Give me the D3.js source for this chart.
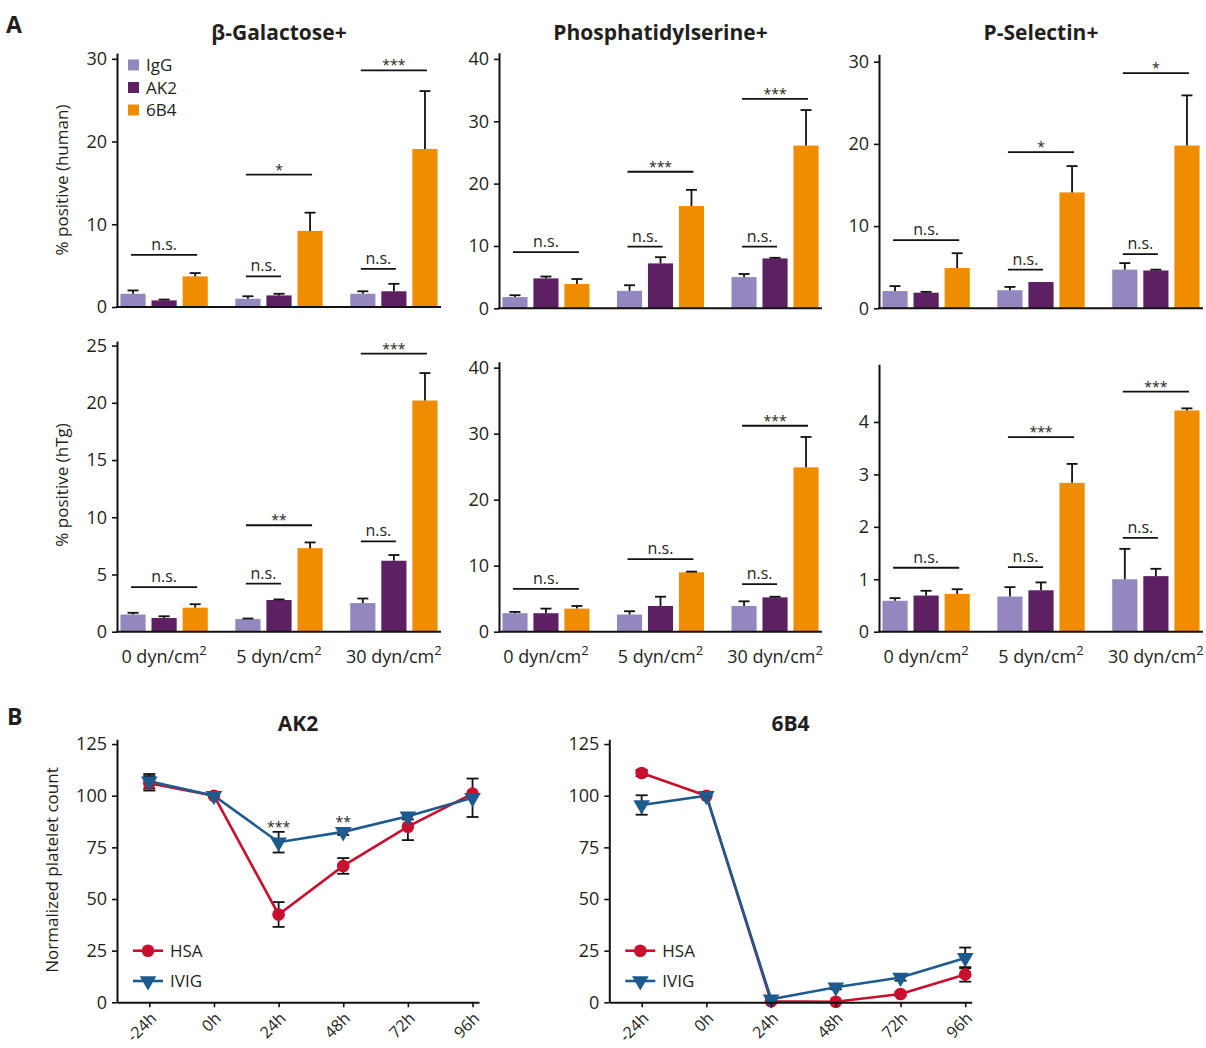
<!DOCTYPE html>
<html>
<head>
<meta charset="utf-8">
<script src="https://cdn.jsdelivr.net/npm/d3@7"></script>
<style>
  body { margin: 0; background: #fff; }
  svg { display: block; }
  text { font-family: "Open Sans", "Noto Sans", sans-serif; fill: #231f20; }
</style>
</head>
<body>
<svg id="fig" width="1206" height="1048"></svg>
<script>
// ---------- Panel A: bar data (mean and error per shear condition x antibody) ----------
const antibodies = ["IgG", "AK2", "6B4"];
const shearLevels = ["0", "5", "30"];
const barColors = ["#9486be", "#5d2062", "#f08c00"];

const galHumanMean  = [[1.6, 0.8, 3.7], [1.0, 1.4, 9.2], [1.6, 1.9, 19.1]];
const galHumanErr   = [[0.4, 0.1, 0.4], [0.3, 0.2, 2.2], [0.3, 0.9, 7.0]];
const psHumanMean   = [[1.8, 4.8, 3.9], [2.8, 7.2, 16.4], [5.0, 8.0, 26.1]];
const psHumanErr    = [[0.3, 0.3, 0.8], [0.9, 1.0, 2.6], [0.5, 0.1, 5.7]];
const pselHumanMean = [[2.1, 1.9, 4.9], [2.2, 3.2, 14.1], [4.7, 4.6, 19.8]];
const pselHumanErr  = [[0.6, 0.1, 1.8], [0.4, 0.0, 3.2], [0.8, 0.1, 6.1]];

const galHtgMean  = [[1.5, 1.2, 2.1], [1.1, 2.77, 7.3], [2.5, 6.2, 20.2]];
const galHtgErr   = [[0.15, 0.15, 0.3], [0.05, 0.05, 0.5], [0.4, 0.5, 2.4]];
const psHtgMean   = [[2.8, 2.8, 3.5], [2.6, 3.9, 9.0], [3.9, 5.2, 24.9]];
const psHtgErr    = [[0.2, 0.7, 0.4], [0.5, 1.4, 0.1], [0.7, 0.1, 4.6]];
const pselHtgMean = [[0.59, 0.69, 0.72], [0.67, 0.79, 2.84], [1.0, 1.06, 4.22]];
const pselHtgErr  = [[0.05, 0.09, 0.09], [0.18, 0.15, 0.36], [0.58, 0.14, 0.04]];

// significance brackets: [shear group, from antibody, to antibody, height, label]
const galHumanSig  = [[0, 0, 2, 6.3, "n.s."], [1, 0, 1, 3.7, "n.s."], [1, 0, 2, 16.0, "*"], [2, 0, 1, 4.6, "n.s."], [2, 0, 2, 28.6, "***"]];
const psHumanSig   = [[0, 0, 2, 9.0, "n.s."], [1, 0, 1, 9.9, "n.s."], [1, 0, 2, 21.9, "***"], [2, 0, 1, 9.9, "n.s."], [2, 0, 2, 33.6, "***"]];
const pselHumanSig = [[0, 0, 2, 8.3, "n.s."], [1, 0, 1, 4.7, "n.s."], [1, 0, 2, 19.0, "*"], [2, 0, 1, 6.6, "n.s."], [2, 0, 2, 28.6, "*"]];
const galHtgSig    = [[0, 0, 2, 3.9, "n.s."], [1, 0, 1, 4.2, "n.s."], [1, 0, 2, 9.3, "**"], [2, 0, 1, 7.9, "n.s."], [2, 0, 2, 24.3, "***"]];
const psHtgSig     = [[0, 0, 2, 6.5, "n.s."], [1, 0, 2, 11.0, "n.s."], [2, 0, 1, 7.2, "n.s."], [2, 0, 2, 31.2, "***"]];
const pselHtgSig   = [[0, 0, 2, 1.22, "n.s."], [1, 0, 1, 1.23, "n.s."], [1, 0, 2, 3.71, "***"], [2, 0, 1, 1.79, "n.s."], [2, 0, 2, 4.58, "***"]];

const galTicks = [0, 10, 20, 30];
const psTicks = [0, 10, 20, 30, 40];
const pselTicks = [0, 10, 20, 30];
const galHtgTicks = [0, 5, 10, 15, 20, 25];
const psHtgTicks = [0, 10, 20, 30, 40];
const pselHtgTicks = [0, 1, 2, 3, 4];

// ---------- Panel B: normalized platelet count over time ----------
const timepoints = ["-24h", "0h", "24h", "48h", "72h", "96h"];
const ak2Hsa     = [106, 100, 42.5, 66, 85, 101];
const ak2HsaErr  = [3.5, 0, 6, 3.8, 6.5, 0];
const ak2Ivig    = [107, 100, 77.5, 82.5, 90, 99];
const ak2IvigErr = [3.5, 0, 5, 1.5, 1.5, 9.3];
const ak2Stars   = [[2, 86, "***"], [3, 88, "**"]];
const b4Hsa      = [111, 100, 0.5, 0.3, 4, 13.5];
const b4HsaErr   = [1.5, 0, 0, 0, 1, 3.5];
const b4Ivig     = [95.5, 100, 1.5, 7.3, 12, 21.5];
const b4IvigErr  = [4.7, 0, 0.5, 1, 1.5, 5];
const countTicks = [0, 25, 50, 75, 100, 125];
const hsaColor = "#c8102e";
const ivigColor = "#1d5b8f";

const svg = d3.select("#fig");

function styleAxis(g) {
  g.select(".domain").attr("stroke", "#111").attr("stroke-width", 2);
  g.selectAll(".tick line").attr("stroke", "#111").attr("stroke-width", 1.6);
  g.selectAll(".tick text").style("font-size", "18px").attr("fill", "#231f20");
}

function shearLabel(sel, v) {
  sel.text(v + " dyn/cm");
  sel.append("tspan").attr("dy", -8).style("font-size", "13px").text("2");
}

function barPanel(o) {
  const g = svg.append("g");
  const y = d3.scaleLinear().domain([0, o.domTop]).range([o.y0, o.yTop]);
  const x0 = d3.scaleBand().domain(shearLevels).range([o.x0, o.x1])
    .paddingInner(0.24).paddingOuter(0.03);
  const x1 = d3.scaleBand().domain(antibodies).range([0, x0.bandwidth()]).paddingInner(0.19);
  const capW = 11;

  shearLevels.forEach((s, gi) => {
    antibodies.forEach((a, ai) => {
      const v = o.mean[gi][ai], e = o.err[gi][ai];
      const bx = x0(s) + x1(a);
      g.append("rect").attr("x", bx).attr("y", y(v))
        .attr("width", x1.bandwidth()).attr("height", y(0) - y(v))
        .attr("fill", barColors[ai]);
      if (e > 0) {
        const cx = bx + x1.bandwidth() / 2;
        g.append("line").attr("x1", cx).attr("x2", cx).attr("y1", y(v)).attr("y2", y(v + e))
          .attr("stroke", "#111").attr("stroke-width", 1.8);
        g.append("line").attr("x1", cx - capW / 2).attr("x2", cx + capW / 2)
          .attr("y1", y(v + e)).attr("y2", y(v + e)).attr("stroke", "#111").attr("stroke-width", 1.8);
      }
    });
  });

  // significance brackets
  o.sig.forEach(([gi, a, b, h, lab]) => {
    const xa = x0(shearLevels[gi]) + x1(antibodies[a]) + x1.bandwidth() / 2;
    const xb = x0(shearLevels[gi]) + x1(antibodies[b]) + x1.bandwidth() / 2;
    g.append("line").attr("x1", xa - 2).attr("x2", xb + 2).attr("y1", y(h)).attr("y2", y(h))
      .attr("stroke", "#111").attr("stroke-width", 1.8);
    const isStar = lab.indexOf("*") === 0;
    g.append("text").attr("x", (xa + xb) / 2).attr("y", y(h) - (isStar ? 0 : 5))
      .attr("text-anchor", "middle")
      .style("font-size", isStar ? "14px" : "16px").text(lab);
  });

  // axes
  const ya = g.append("g").attr("transform", `translate(${o.x0},0)`)
    .call(d3.axisLeft(y).tickValues(o.ticks).tickFormat(d3.format("d"))
      .tickSize(5).tickPadding(5).tickSizeOuter(0));
  styleAxis(ya);
  g.append("line").attr("x1", o.x0 - 1).attr("x2", o.x1).attr("y1", o.y0).attr("y2", o.y0)
    .attr("stroke", "#111").attr("stroke-width", 2);

  if (o.title) {
    g.append("text").attr("x", (o.x0 + o.x1) / 2).attr("y", 40).attr("text-anchor", "middle")
      .style("font-size", "21px").style("font-weight", "700").attr("fill", "#111").text(o.title);
  }
  if (o.ylabel) {
    g.append("text").attr("transform", `translate(68,${o.ylabelY}) rotate(-90)`)
      .attr("text-anchor", "middle").style("font-size", "17px").text(o.ylabel);
  }
  if (o.xlabels) {
    shearLevels.forEach(s => {
      g.append("text").attr("x", x0(s) + x0.bandwidth() / 2).attr("y", o.y0 + 31)
        .attr("text-anchor", "middle").style("font-size", "18px")
        .call(shearLabel, s);
    });
  }
}

const cols = [[117, 441], [499, 822], [879, 1203]];

barPanel({ x0: cols[0][0], x1: cols[0][1], y0: 307, yTop: 53, domTop: 30.7, ticks: galTicks,
  mean: galHumanMean, err: galHumanErr, sig: galHumanSig, title: "\u03b2-Galactose+",
  ylabel: "% positive (human)", ylabelY: 180 });
barPanel({ x0: cols[1][0], x1: cols[1][1], y0: 308.3, yTop: 52.7, domTop: 41, ticks: psTicks,
  mean: psHumanMean, err: psHumanErr, sig: psHumanSig, title: "Phosphatidylserine+" });
barPanel({ x0: cols[2][0], x1: cols[2][1], y0: 308.3, yTop: 54.3, domTop: 30.9, ticks: pselTicks,
  mean: pselHumanMean, err: pselHumanErr, sig: pselHumanSig, title: "P-Selectin+" });
barPanel({ x0: cols[0][0], x1: cols[0][1], y0: 631.7, yTop: 341, domTop: 25.4, ticks: galHtgTicks,
  mean: galHtgMean, err: galHtgErr, sig: galHtgSig, ylabel: "% positive (hTg)", ylabelY: 485, xlabels: true });
barPanel({ x0: cols[1][0], x1: cols[1][1], y0: 631.7, yTop: 361.7, domTop: 40.9, ticks: psHtgTicks,
  mean: psHtgMean, err: psHtgErr, sig: psHtgSig, xlabels: true });
barPanel({ x0: cols[2][0], x1: cols[2][1], y0: 631.7, yTop: 364.3, domTop: 5.1, ticks: pselHtgTicks,
  mean: pselHtgMean, err: pselHtgErr, sig: pselHtgSig, xlabels: true });

// legend for antibodies
const leg = svg.append("g");
antibodies.forEach((a, i) => {
  const ly = 65 + i * 22.5;
  leg.append("rect").attr("x", 128).attr("y", ly - 5.5).attr("width", 11).attr("height", 11).attr("fill", barColors[i]);
  leg.append("text").attr("x", 146).attr("y", ly + 6).style("font-size", "17px").text(a);
});

// ---------- line panels ----------
const triangleDown = d3.symbol().type(d3.symbolTriangle).size(120);

function linePanel(o) {
  const g = svg.append("g");
  const x = d3.scaleLinear().domain([-0.5, 5.1]).range([o.x0, o.x1]);
  const y = d3.scaleLinear().domain([0, 127.3]).range([1002.3, 739.3]);
  const idx = timepoints.map((_, i) => i);

  const series = [
    { v: o.hsa, e: o.hsaErr, c: hsaColor, m: "circle" },
    { v: o.ivig, e: o.ivigErr, c: ivigColor, m: "tri" }
  ];
  // error bars
  series.forEach(s => {
    idx.forEach(i => {
      if (s.e[i] <= 0) return;
      const cx = x(i), lo = y(s.v[i] - s.e[i]), hi = y(s.v[i] + s.e[i]);
      g.append("line").attr("x1", cx).attr("x2", cx).attr("y1", lo).attr("y2", hi).attr("stroke", "#111").attr("stroke-width", 1.8);
      [lo, hi].forEach(yy => g.append("line").attr("x1", cx - 6).attr("x2", cx + 6).attr("y1", yy).attr("y2", yy)
        .attr("stroke", "#111").attr("stroke-width", 1.8));
    });
  });
  // lines + markers
  const line = d3.line().x((d, i) => x(i)).y(d => y(d));
  series.forEach(s => {
    g.append("path").datum(s.v).attr("d", line).attr("fill", "none").attr("stroke", s.c).attr("stroke-width", 2.6);
  });
  series.forEach(s => {
    s.v.forEach((d, i) => {
      if (s.m === "circle") {
        g.append("circle").attr("cx", x(i)).attr("cy", y(d)).attr("r", 6.3).attr("fill", s.c);
      } else {
        g.append("path").attr("d", triangleDown)
          .attr("transform", `translate(${x(i)},${y(d)}) rotate(180)`).attr("fill", s.c);
      }
    });
  });
  (o.stars || []).forEach(([i, h, lab]) => {
    g.append("text").attr("x", x(i)).attr("y", y(h) + 7).attr("text-anchor", "middle")
      .style("font-size", "14px").text(lab);
  });

  // axes
  const ya = g.append("g").attr("transform", `translate(${o.x0},0)`)
    .call(d3.axisLeft(y).tickValues(countTicks).tickSize(5).tickPadding(5).tickSizeOuter(0));
  styleAxis(ya);
  const xa = g.append("g").attr("transform", `translate(0,1002.3)`)
    .call(d3.axisBottom(x).tickValues(idx).tickSize(5).tickFormat("").tickSizeOuter(0));
  styleAxis(xa);
  idx.forEach(i => {
    g.append("text").attr("transform", `translate(${x(i) + 8},${1002.3 + 17}) rotate(-45)`)
      .attr("text-anchor", "end").style("font-size", "16px").text(timepoints[i]);
  });

  g.append("text").attr("x", (o.x0 + o.x1) / 2).attr("y", 731).attr("text-anchor", "middle")
    .style("font-size", "21px").style("font-weight", "700").attr("fill", "#111").text(o.title);
  if (o.ylabel) {
    g.append("text").attr("transform", `translate(58,870) rotate(-90)`)
      .attr("text-anchor", "middle").style("font-size", "17px").text(o.ylabel);
  }

  // legend
  const lx = o.x0 + 16;
  [["HSA", hsaColor, "circle", 950.7], ["IVIG", ivigColor, "tri", 981]].forEach(([lab, c, m, ly]) => {
    g.append("line").attr("x1", lx).attr("x2", lx + 30).attr("y1", ly).attr("y2", ly).attr("stroke", c).attr("stroke-width", 2.6);
    if (m === "circle") g.append("circle").attr("cx", lx + 15).attr("cy", ly).attr("r", 6.3).attr("fill", c);
    else g.append("path").attr("d", triangleDown).attr("transform", `translate(${lx + 15},${ly}) rotate(180)`).attr("fill", c);
    g.append("text").attr("x", lx + 37).attr("y", ly + 6).style("font-size", "17px").text(lab);
  });
}

linePanel({ x0: 117, x1: 479, hsa: ak2Hsa, hsaErr: ak2HsaErr, ivig: ak2Ivig, ivigErr: ak2IvigErr,
  stars: ak2Stars, title: "AK2", ylabel: "Normalized platelet count" });
linePanel({ x0: 609.3, x1: 971.7, hsa: b4Hsa, hsaErr: b4HsaErr, ivig: b4Ivig, ivigErr: b4IvigErr, title: "6B4" });

// panel letters
svg.append("text").attr("x", 6).attr("y", 33).style("font-size", "23px").style("font-weight", "700").attr("fill", "#111").text("A");
svg.append("text").attr("x", 7).attr("y", 725).style("font-size", "23px").style("font-weight", "700").attr("fill", "#111").text("B");
</script>
</body>
</html>
